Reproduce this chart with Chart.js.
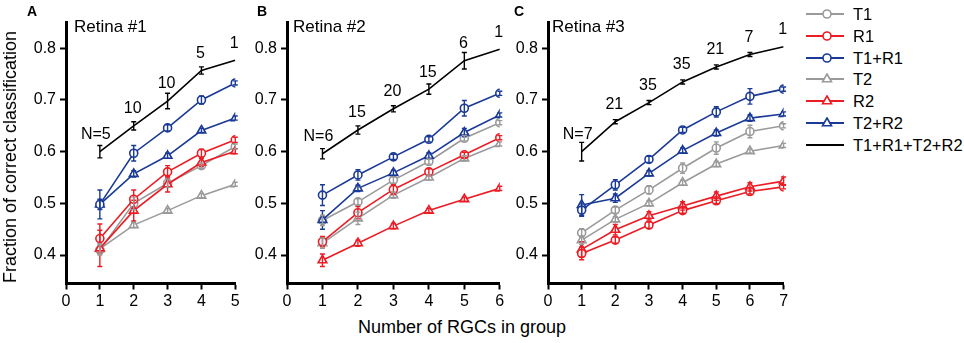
<!DOCTYPE html>
<html>
<head>
<meta charset="utf-8">
<script src="https://cdn.jsdelivr.net/npm/chart.js@4.4.1/dist/chart.umd.min.js"></script>
<style>
  body { margin: 0; background: #fff; font-family: Arial, "Liberation Sans", sans-serif; }
  #wrap { position: relative; width: 964px; height: 343px; overflow: hidden; }
  canvas { position: absolute; top: 0; }
  .t { position: absolute; white-space: nowrap; color: #000; line-height: 1; }
  .panel { font-weight: bold; font-size: 14px; top: 4px; }
  .retina { font-size: 17px; top: 18px; }
  .lg { position: absolute; left: 805px; }
  .lg span { position: absolute; left: 48px; font-size: 16.5px; line-height: 16px; white-space: nowrap; }
</style>
</head>
<body>
<div id="wrap">
  <canvas id="cA" width="252" height="315" style="left:0px"></canvas>
  <canvas id="cB" width="300" height="315" style="left:220.5px"></canvas>
  <canvas id="cC" width="320" height="315" style="left:481.7px"></canvas>

  <div class="t panel" style="left:27px">A</div>
  <div class="t panel" style="left:257px">B</div>
  <div class="t panel" style="left:514px">C</div>
  <div class="t retina" style="left:74px">Retina #1</div>
  <div class="t retina" style="left:293px">Retina #2</div>
  <div class="t retina" style="left:552px">Retina #3</div>

  <div class="t" style="left:10px;top:157px;font-size:18px;transform:translate(-50%,-50%) rotate(-90deg)">Fraction of correct classification</div>
  <div class="t" style="left:462px;top:318px;font-size:18px;transform:translateX(-50%)">Number of RGCs in group</div>
  <div id="legend"></div>
</div>

<script>
// colours
const GREY = '#9a9a9a';
const RED = '#ec1c24';
const BLUE = '#1a3a96';
const BLACK = '#000000';

// tick labels
const yTicks = [0.4, 0.5, 0.6, 0.7, 0.8];

// Retina #1
const xA = [1, 2, 3, 4, 5];
const nA = ['N=5', '10', '10', '5', '1'];
const allA = [0.600, 0.650, 0.698, 0.757, 0.777];
const allErrA = [0.012, 0.008, 0.015, 0.007, 0];
const t1A = [0.410, 0.500, 0.539, 0.573, 0.610];
const t1ErrA = [0.010, 0.012, 0.008, 0.005, 0.005];
const r1A = [0.432, 0.508, 0.561, 0.597, 0.623];
const r1ErrA = [0.028, 0.018, 0.012, 0.008, 0.005];
const t1r1A = [0.498, 0.597, 0.646, 0.700, 0.733];
const t1r1ErrA = [0.028, 0.015, 0.006, 0.008, 0.004];
const t2A = [0.412, 0.458, 0.486, 0.515, 0.537];
const t2ErrA = [0.010, 0.005, 0.004, 0.004, 0.004];
const r2A = [0.413, 0.486, 0.537, 0.579, 0.601];
const r2ErrA = [0.035, 0.020, 0.015, 0.008, 0.005];
const t2r2A = [0.498, 0.557, 0.592, 0.641, 0.665];
const t2r2ErrA = [0.010, 0.006, 0.005, 0.004, 0.004];

// Retina #2
const xB = [1, 2, 3, 4, 5, 6];
const nB = ['N=6', '15', '20', '15', '6', '1'];
const allB = [0.596, 0.642, 0.683, 0.721, 0.776, 0.798];
const allErrB = [0.010, 0.008, 0.006, 0.010, 0.016, 0];
const t1B = [0.467, 0.503, 0.545, 0.581, 0.626, 0.656];
const t1ErrB = [0.010, 0.006, 0.006, 0.005, 0.005, 0.004];
const r1B = [0.426, 0.482, 0.527, 0.561, 0.594, 0.627];
const r1ErrB = [0.010, 0.012, 0.010, 0.006, 0.005, 0.004];
const t1r1B = [0.516, 0.555, 0.590, 0.624, 0.684, 0.713];
const t1r1ErrB = [0.020, 0.010, 0.005, 0.005, 0.015, 0.004];
const t2B = [0.423, 0.471, 0.516, 0.550, 0.587, 0.615];
const t2ErrB = [0.010, 0.012, 0.006, 0.005, 0.005, 0.004];
const r2B = [0.390, 0.423, 0.456, 0.486, 0.508, 0.529];
const r2ErrB = [0.012, 0.006, 0.005, 0.004, 0.004, 0.004];
const t2r2B = [0.468, 0.529, 0.559, 0.592, 0.637, 0.671];
const t2r2ErrB = [0.018, 0.006, 0.005, 0.006, 0.008, 0.004];

// Retina #3
const xC = [1, 2, 3, 4, 5, 6, 7];
const nC = ['N=7', '21', '35', '35', '21', '7', '1'];
const allC = [0.600, 0.658, 0.695, 0.735, 0.764, 0.788, 0.803];
const allErrC = [0.018, 0.004, 0.004, 0.004, 0.004, 0.004, 0];
const t1C = [0.443, 0.487, 0.526, 0.568, 0.607, 0.639, 0.650];
const t1ErrC = [0.008, 0.006, 0.008, 0.010, 0.012, 0.012, 0.004];
const r1C = [0.403, 0.429, 0.458, 0.486, 0.505, 0.523, 0.532];
const r1ErrC = [0.012, 0.006, 0.006, 0.005, 0.005, 0.005, 0.004];
const t1r1C = [0.487, 0.536, 0.585, 0.642, 0.677, 0.707, 0.721];
const t1r1ErrC = [0.012, 0.010, 0.006, 0.005, 0.010, 0.015, 0.004];
const t2C = [0.429, 0.469, 0.500, 0.540, 0.576, 0.601, 0.612];
const t2ErrC = [0.008, 0.005, 0.005, 0.005, 0.005, 0.004, 0.004];
const r2C = [0.411, 0.449, 0.476, 0.495, 0.514, 0.532, 0.543];
const r2ErrC = [0.015, 0.010, 0.008, 0.008, 0.008, 0.008, 0.008];
const t2r2C = [0.497, 0.510, 0.558, 0.602, 0.636, 0.665, 0.673];
const t2r2ErrC = [0.020, 0.008, 0.005, 0.005, 0.006, 0.006, 0.004];

// legend
const legendLabels = ['T1', 'R1', 'T1+R1', 'T2', 'R2', 'T2+R2', 'T1+R1+T2+R2'];
const legendColors = [GREY, RED, BLUE, GREY, RED, BLUE, BLACK];
const legendMarkers = ['circle', 'circle', 'circle', 'triangle', 'triangle', 'triangle', 'none'];

function series(label, xs, ys, err, color, marker) {
  return {
    label: label,
    data: xs.map((x, i) => ({ x: x, y: ys[i] })),
    err: err,
    borderColor: color,
    backgroundColor: '#ffffff',
    borderWidth: 1.6,
    pointStyle: marker === 'none' ? false : marker,
    pointRadius: marker === 'triangle' ? 5 : (marker === 'none' ? 0 : 4),
    pointBorderWidth: 1.6,
    pointBorderColor: color,
    pointBackgroundColor: '#ffffff',
    tension: 0
  };
}

// error bars and N labels, placed through the scales
const extrasPlugin = {
  id: 'extras',
  afterDatasetsDraw(chart, args, opts) {
    const ctx = chart.ctx;
    const xs = chart.scales.x, ys = chart.scales.y;
    ctx.save();
    chart.data.datasets.forEach(ds => {
      ctx.strokeStyle = ds.borderColor;
      ctx.lineWidth = 1.4;
      ds.data.forEach((p, i) => {
        const e = ds.err[i];
        if (!e) return;
        const px = xs.getPixelForValue(p.x);
        const top = ys.getPixelForValue(p.y + e);
        const bot = ys.getPixelForValue(p.y - e);
        ctx.beginPath();
        ctx.moveTo(px, top); ctx.lineTo(px, bot);
        ctx.moveTo(px - 2.5, top); ctx.lineTo(px + 2.5, top);
        ctx.moveTo(px - 2.5, bot); ctx.lineTo(px + 2.5, bot);
        ctx.stroke();
      });
    });
    const all = chart.data.datasets[0];
    ctx.fillStyle = '#000';
    ctx.font = '16px Arial, "Liberation Sans", sans-serif';
    ctx.textAlign = 'center';
    ctx.textBaseline = 'middle';
    opts.labels.forEach((txt, i) => {
      const p = all.data[i];
      const dx = i === 0 ? -4 : -1;
      ctx.fillText(txt, xs.getPixelForValue(p.x) + dx, ys.getPixelForValue(p.y) - 17);
    });
    ctx.restore();
  }
};

function makePanel(id, xs, xMax, padRight, nLabels, all, allErr, t1, t1Err, r1, r1Err, t1r1, t1r1Err, t2, t2Err, r2, r2Err, t2r2, t2r2Err) {
  const tickFont = { family: 'Arial, "Liberation Sans", sans-serif', size: 16 };
  new Chart(document.getElementById(id), {
    type: 'line',
    data: {
      datasets: [
        series('T1+R1+T2+R2', xs, all, allErr, BLACK, 'none'),
        series('T1+R1', xs, t1r1, t1r1Err, BLUE, 'circle'),
        series('T2+R2', xs, t2r2, t2r2Err, BLUE, 'triangle'),
        series('R1', xs, r1, r1Err, RED, 'circle'),
        series('R2', xs, r2, r2Err, RED, 'triangle'),
        series('T1', xs, t1, t1Err, GREY, 'circle'),
        series('T2', xs, t2, t2Err, GREY, 'triangle')
      ]
    },
    options: {
      responsive: false,
      animation: false,
      events: [],
      layout: { padding: { top: 22.45, right: padRight, left: 0, bottom: 0 } },
      plugins: { legend: { display: false }, tooltip: { enabled: false }, extras: { labels: nLabels } },
      scales: {
        x: {
          type: 'linear',
          min: 0,
          max: xMax,
          afterBuildTicks: s => { s.ticks = xs.concat([0]).sort((a, b) => a - b).map(v => ({ value: v })); },
          afterFit: s => { s.height = 31.5; },
          grid: { display: true, drawOnChartArea: false, drawTicks: true, tickLength: 6, tickWidth: 2, tickColor: '#000' },
          border: { display: true, width: 3, color: '#000' },
          ticks: { color: '#000', font: tickFont, padding: 2, maxRotation: 0, autoSkip: false }
        },
        y: {
          min: 0.345,
          max: 0.85,
          afterBuildTicks: s => { s.ticks = yTicks.map(v => ({ value: v })); },
          afterFit: s => { s.width = 66; },
          grid: { display: true, drawOnChartArea: false, drawTicks: true, tickLength: 6, tickWidth: 2, tickColor: '#000' },
          border: { display: true, width: 3, color: '#000' },
          ticks: { color: '#000', font: tickFont, padding: 4, callback: v => v.toFixed(1) }
        }
      }
    },
    plugins: [extrasPlugin]
  });
}

makePanel('cA', xA, 5, 16.7, nA, allA, allErrA, t1A, t1ErrA, r1A, r1ErrA, t1r1A, t1r1ErrA, t2A, t2ErrA, r2A, r2ErrA, t2r2A, t2r2ErrA);
makePanel('cB', xB, 6, 21.2, nB, allB, allErrB, t1B, t1ErrB, r1B, r1ErrB, t1r1B, t1r1ErrB, t2B, t2ErrB, r2B, r2ErrB, t2r2B, t2r2ErrB);
makePanel('cC', xC, 7, 18.4, nC, allC, allErrC, t1C, t1ErrC, r1C, r1ErrC, t1r1C, t1r1ErrC, t2C, t2ErrC, r2C, r2ErrC, t2r2C, t2r2ErrC);

// legend rows
const legend = document.getElementById('legend');
legendLabels.forEach((lab, i) => {
  const c = legendColors[i];
  let mark = '';
  if (legendMarkers[i] === 'circle') {
    mark = '<circle cx="22" cy="6" r="4" fill="#fff" stroke="' + c + '" stroke-width="1.6"/>';
  } else if (legendMarkers[i] === 'triangle') {
    mark = '<polygon points="22,1 26.5,8.8 17.5,8.8" fill="#fff" stroke="' + c + '" stroke-width="1.6"/>';
  }
  const row = document.createElement('div');
  row.className = 'lg';
  row.style.top = (14 + i * 21.8 - 6) + 'px';
  row.innerHTML = '<svg width="40" height="12" style="position:absolute;left:0;top:0">' +
    '<line x1="1" y1="6" x2="39" y2="6" stroke="' + c + '" stroke-width="1.8"/>' + mark + '</svg>' +
    '<span style="top:-2px">' + lab + '</span>';
  legend.appendChild(row);
});
</script>
</body>
</html>
